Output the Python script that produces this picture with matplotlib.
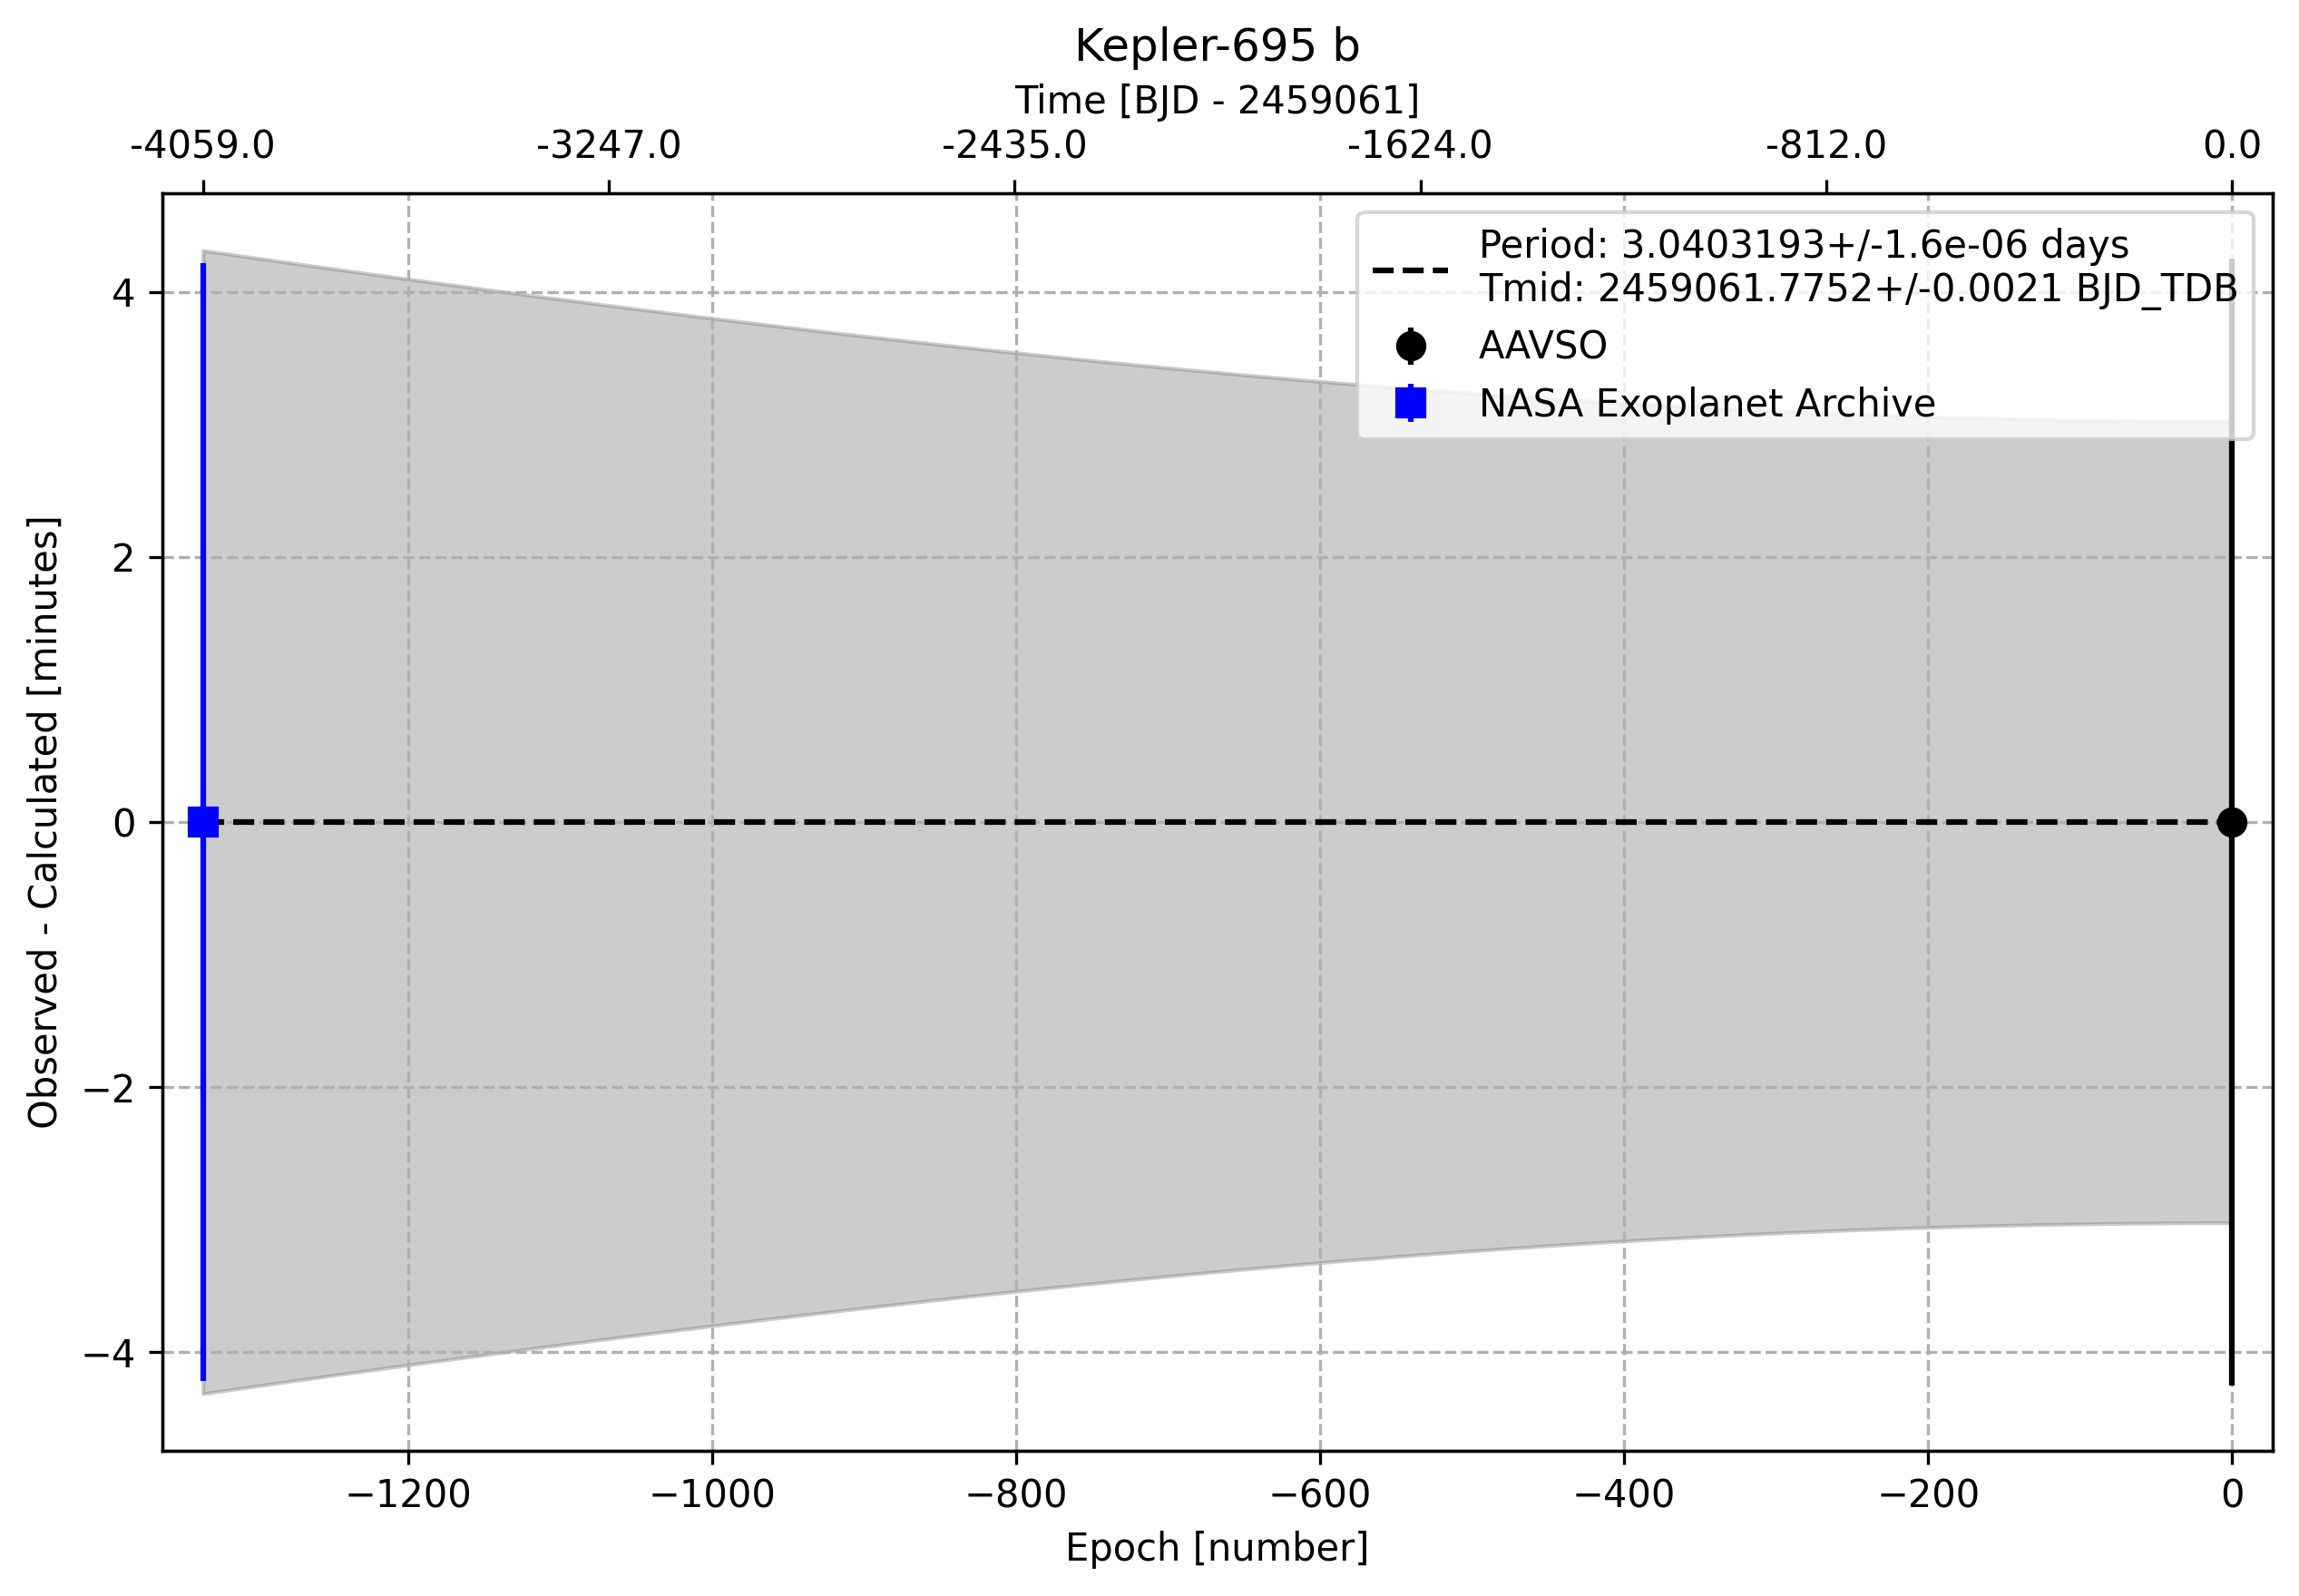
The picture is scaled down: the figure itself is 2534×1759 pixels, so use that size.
import numpy as np
import matplotlib
matplotlib.use("Agg")
import matplotlib.pyplot as plt

# === Dati ===
target = "Kepler-695 b"
period = 3.0403193
period_err = 1.6e-06
tmid = 2459061.7752
tmid_err = 0.0021

aavso_epoch = [0]
aavso_oc = [0.0]
aavso_err = [4.25]

nasa_epoch = [-1335]
nasa_oc = [0.0]
nasa_err = [4.22]

top_labels = ["-4059.0", "-3247.0", "-2435.0", "-1624.0", "-812.0", "0.0"]

# === Modello e incertezza (minuti) ===
all_epochs = np.array(aavso_epoch + nasa_epoch)
emin, emax = all_epochs.min(), all_epochs.max()
ep = np.linspace(emin, emax, 1000)
band = np.sqrt(tmid_err**2 + (ep * period_err)**2) * 24 * 60

fig, ax = plt.subplots(figsize=(2534 / 300, 1759 / 300), dpi=300)
fig.subplots_adjust(left=0.0706, right=0.9886, top=0.8789, bottom=0.091)

ax.fill_between(ep, -band, band, color="gray", alpha=0.4)
ax.errorbar(aavso_epoch, aavso_oc, yerr=aavso_err, fmt="o", ms=7, color="black", label="AAVSO")
ax.errorbar(nasa_epoch, nasa_oc, yerr=nasa_err, fmt="s", ms=7, color="blue",
            label="NASA Exoplanet Archive")
# linea del modello (sopra i punti)
ax.plot([emin, emax], [0, 0], "k--",
        label=f"Period: {period}+/-{period_err} days\n"
              f"Tmid: {tmid}+/-{tmid_err} BJD_TDB")

pad = 0.02 * (emax - emin)
ax.set_xlim(emin - pad, emax + pad)
ax.set_xlabel("Epoch [number]")
ax.set_ylabel("Observed - Calculated [minutes]")
ax.grid(True, ls="--")
ax.legend(loc="upper right")

ax2 = ax.twiny()
ax2.set_xlim(ax.get_xlim())
ax2.set_xticks(np.linspace(emin, emax, len(top_labels)))
ax2.set_xticklabels(top_labels)
ax2.set_xlabel(f"Time [BJD - {int(tmid)}]")
ax.set_title(target)

plt.savefig("out.png", dpi=300)
